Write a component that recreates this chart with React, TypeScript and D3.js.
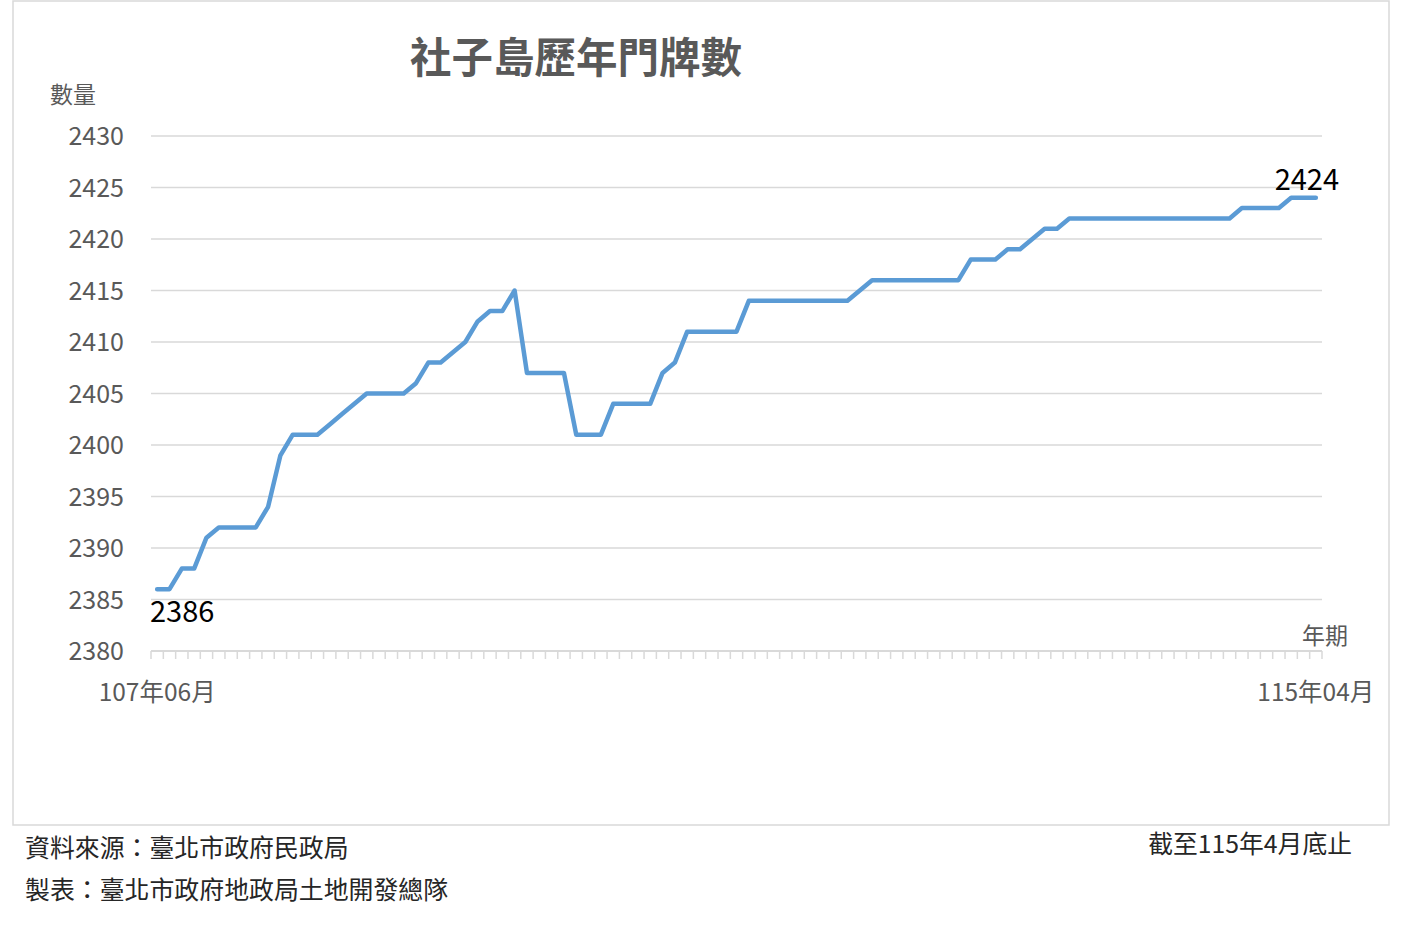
import React from "react";
import * as d3 from "d3";

const title = "社子島歷年門牌數";
const yAxisTitle = "數量";
const xAxisTitle = "年期";
const firstLabel = "107年06月";
const lastLabel = "115年04月";
const sourceNote = "資料來源：臺北市政府民政局";
const makerNote = "製表：臺北市政府地政局土地開發總隊";
const dateNote = "截至115年4月底止";

// Monthly, 107年06月 .. 115年04月 (95 months)
const values: number[] = [
  2386, 2386, 2388, 2388, 2391, 2392, 2392, 2392, 2392, 2394,
  2399, 2401, 2401, 2401, 2402, 2403, 2404, 2405, 2405, 2405,
  2405, 2406, 2408, 2408, 2409, 2410, 2412, 2413, 2413, 2415,
  2407, 2407, 2407, 2407, 2401, 2401, 2401, 2404, 2404, 2404,
  2404, 2407, 2408, 2411, 2411, 2411, 2411, 2411, 2414, 2414,
  2414, 2414, 2414, 2414, 2414, 2414, 2414, 2415, 2416, 2416,
  2416, 2416, 2416, 2416, 2416, 2416, 2418, 2418, 2418, 2419,
  2419, 2420, 2421, 2421, 2422, 2422, 2422, 2422, 2422, 2422,
  2422, 2422, 2422, 2422, 2422, 2422, 2422, 2422, 2423, 2423,
  2423, 2423, 2424, 2424, 2424,
];

const yTicks: number[] = [2380, 2385, 2390, 2395, 2400, 2405, 2410, 2415, 2420, 2425, 2430];

const FONT = "'Noto Sans CJK TC', 'Noto Sans', sans-serif";
const GRAY = "#595959";
const GRID = "#d9d9d9";
const LINE = "#5B9BD5";

export default function App() {
  const W = 1416;
  const H = 934;
  const idx = values.map((_, i) => i);
  const x = d3.scaleBand<number>().domain(idx).range([151, 1322]).paddingInner(0).paddingOuter(0);
  const y = d3.scaleLinear().domain([2380, 2430]).range([651, 136]);
  const cx = (i: number) => (x(i) as number) + x.bandwidth() / 2;

  const line = d3
    .line<number>()
    .x((_, i) => cx(i))
    .y((d) => y(d));

  const step = x.step();
  const tickXs = d3.range(values.length + 1).map((k) => 151 + k * step);
  const last = values.length - 1;
  const dyc = -2; // baseline correction for the CJK font

  return (
    <svg
      width={W}
      height={H}
      style={{ position: "absolute", left: 0, top: 0, background: "#fff" }}
      fontFamily={FONT}
    >
      <rect x={0} y={0} width={W} height={H} fill="#fff" />
      <rect x={13} y={1} width={1376} height={824} fill="none" stroke={GRID} strokeWidth={1.5} />

      <text x={576} y={55} textAnchor="middle" dominantBaseline="central" fontSize={41.5} fontWeight={600} fill={GRAY}>
        {title}
      </text>
      <text x={73} y={95 + dyc} textAnchor="middle" dominantBaseline="central" fontSize={23} fill={GRAY}>
        {yAxisTitle}
      </text>

      {yTicks.filter((t) => t !== 2380).map((t) => (
        <line key={"g" + t} x1={151} x2={1322} y1={y(t)} y2={y(t)} stroke={GRID} strokeWidth={1.5} />
      ))}
      {yTicks.map((t) => (
        <text key={"t" + t} x={124} y={y(t) + dyc} textAnchor="end" dominantBaseline="central" fontSize={25} fill={GRAY}>
          {t}
        </text>
      ))}

      <line x1={151} x2={1322} y1={y(2380)} y2={y(2380)} stroke={GRID} strokeWidth={2} />
      {tickXs.map((tx, k) => (
        <line key={"k" + k} x1={tx} x2={tx} y1={y(2380)} y2={y(2380) + 8} stroke={GRID} strokeWidth={1.5} />
      ))}

      <text x={cx(0)} y={692 + dyc} textAnchor="middle" dominantBaseline="central" fontSize={24.5} fill={GRAY}>
        {firstLabel}
      </text>
      <text x={cx(last)} y={692 + dyc} textAnchor="middle" dominantBaseline="central" fontSize={24.5} fill={GRAY}>
        {lastLabel}
      </text>
      <text x={1325} y={636 + dyc} textAnchor="middle" dominantBaseline="central" fontSize={23} fill={GRAY}>
        {xAxisTitle}
      </text>

      <path
        d={line(values) || ""}
        fill="none"
        stroke={LINE}
        strokeWidth={4.5}
        strokeLinejoin="round"
        strokeLinecap="round"
      />

      <text x={cx(0) + 25} y={y(values[0]) + 20} textAnchor="middle" dominantBaseline="central" fontSize={29} fill="#000">
        {values[0]}
      </text>
      <text x={cx(last) - 9} y={y(values[last]) - 21} textAnchor="middle" dominantBaseline="central" fontSize={29} fill="#000">
        {values[last]}
      </text>

      <text x={25} y={848 + dyc} dominantBaseline="central" fontSize={24.9} fill="#262626">
        {sourceNote}
      </text>
      <text x={25} y={890 + dyc} dominantBaseline="central" fontSize={24.9} fill="#262626">
        {makerNote}
      </text>
      <text x={1352} y={844 + dyc} textAnchor="end" dominantBaseline="central" fontSize={24.8} fill="#262626">
        {dateNote}
      </text>
    </svg>
  );
}
